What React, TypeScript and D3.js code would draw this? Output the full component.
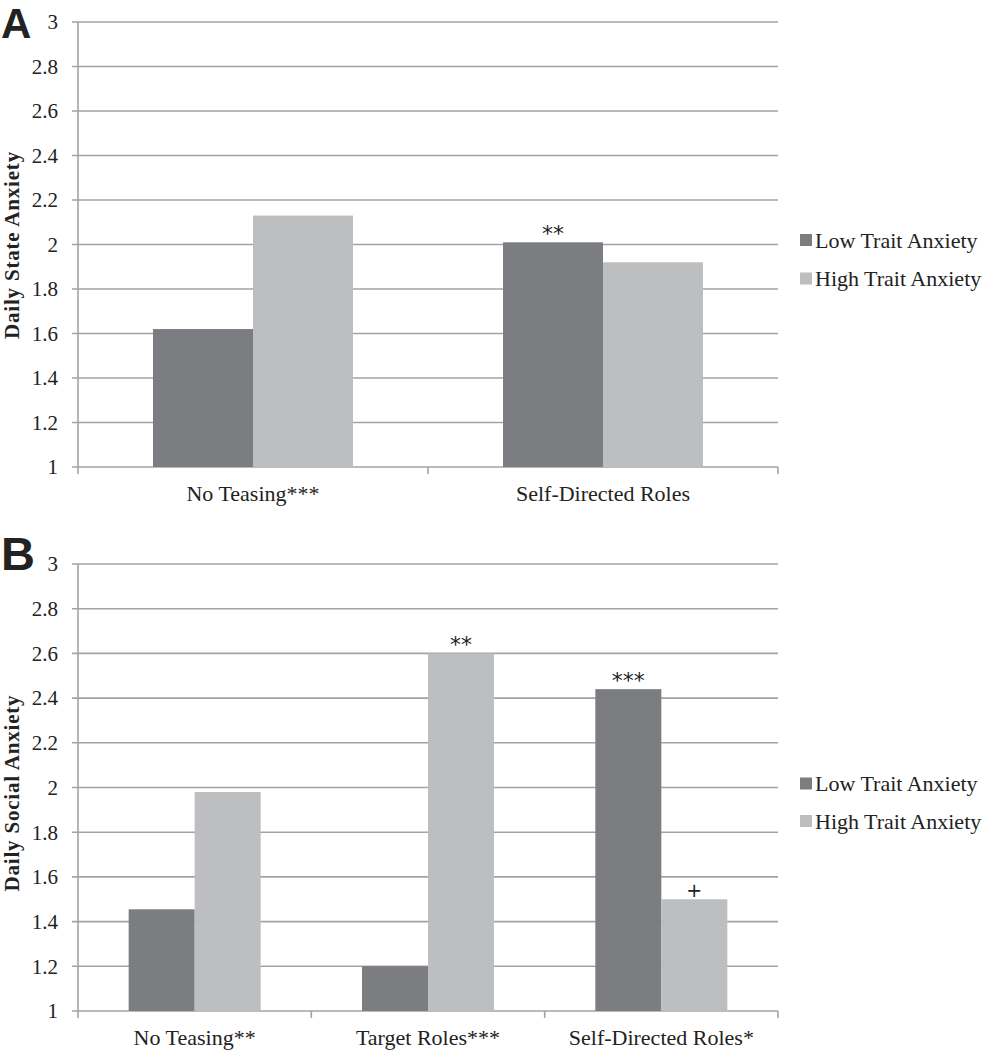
import React, { useEffect } from "react";
import * as d3 from "d3";

const seriesNames = ["Low Trait Anxiety", "High Trait Anxiety"];
const seriesColors = ["#7c7d81", "#bdbec0"];

const catsA = ["No Teasing***", "Self-Directed Roles"];
const lowA = [1.62, 2.01];
const highA = [2.13, 1.92];
const marksLowA = ["", "**"];
const marksHighA = ["", ""];

const catsB = ["No Teasing**", "Target Roles***", "Self-Directed Roles*"];
const lowB = [1.455, 1.2, 2.44];
const highB = [1.98, 2.6, 1.5];
const marksLowB = ["", "", "***"];
const marksHighB = ["", "**", "+"];

const yTicks = [1, 1.2, 1.4, 1.6, 1.8, 2, 2.2, 2.4, 2.6, 2.8, 3];

const SERIF = "'Liberation Serif', 'Times New Roman', serif";

function Panel({ letter, letterSize, title, titleY, cats, low, high, marksLow, marksHigh, top, bottom, barFrac, letterY, legTop, legGap }: any) {
  const left = 78;
  const right = 778;
  const y = d3.scaleLinear().domain([1, 3]).range([bottom, top]);
  const x0 = d3.scaleBand<string>().domain(cats).range([left, right]).paddingInner(0).paddingOuter(0);
  const inner = d3.scaleBand<number>().domain([0, 1]).range([0, x0.bandwidth() * barFrac]);
  const offset = (x0.bandwidth() * (1 - barFrac)) / 2;
  const vals = [low, high];
  const marks = [marksLow, marksHigh];
  return (
    <g>
      <text x={1} y={letterY} fontFamily="'Liberation Sans', Arial, sans-serif" fontWeight="bold" fontSize={letterSize} fill="#222">{letter}</text>
      {yTicks.map((t) => (
        <g key={t}>
          <line x1={left - 6} x2={right} y1={y(t)} y2={y(t)} stroke="#a3a3a3" strokeWidth={1.6} />
          <text x={left - 20} y={y(t)} dy="0.35em" textAnchor="end" fontFamily={SERIF} fontSize={21} fill="#222">{d3.format("~g")(t)}</text>
        </g>
      ))}
      <line x1={left} x2={left} y1={y(3)} y2={y(1) + 1} stroke="#a3a3a3" strokeWidth={1.6} />
      {[...cats.map((c: string) => x0(c)!), right].map((xv: number, i: number) => (
        <line key={i} x1={xv} x2={xv} y1={y(1)} y2={y(1) + 7} stroke="#a3a3a3" strokeWidth={1.6} />
      ))}
      {cats.map((c: string, ci: number) => (
        <g key={c}>
          {[0, 1].map((s) => {
            const bx = x0(c)! + offset + inner(s)!;
            const v = vals[s][ci];
            const m = marks[s][ci];
            return (
              <g key={s}>
                <rect x={bx} y={y(v)} width={inner.bandwidth()} height={y(1) - y(v)} fill={seriesColors[s]} />
                {m && (
                  <text x={bx + inner.bandwidth() / 2} y={m === "+" ? y(v) - 2 : y(v) - 1} textAnchor="middle" fontFamily={m === "+" ? "'DejaVu Sans', sans-serif" : "'DejaVu Sans', sans-serif"} fontSize={m === "+" ? 19 : 22} fill="#222">{m}</text>
                )}
              </g>
            );
          })}
          <text x={x0(c)! + x0.bandwidth() / 2} y={y(1) + 34} textAnchor="middle" fontFamily={SERIF} fontSize={22} fill="#222">{c}</text>
        </g>
      ))}
      <text transform={`translate(19,${titleY}) rotate(-90)`} textAnchor="middle" fontFamily={SERIF} fontWeight="bold" fontSize={21} letterSpacing={0.8} fill="#222">{title}</text>
      {seriesNames.map((n, i) => (
        <g key={n}>
          <rect x={800} y={legTop + i * legGap - 6} width={12} height={12} fill={seriesColors[i]} />
          <text x={815} y={legTop + i * legGap + 7.5} fontFamily={SERIF} fontSize={22} fill="#222">{n}</text>
        </g>
      ))}
    </g>
  );
}

export default function App() {
  useEffect(() => {
    document.body.style.margin = "0";
  }, []);
  return (
    <svg width={988} height={1050} style={{ display: "block", background: "#fff" }}>
      <rect width={988} height={1050} fill="#fff" />
      <Panel letter="A" letterSize={42} title="Daily State Anxiety" titleY={245} cats={catsA} low={lowA} high={highA} marksLow={marksLowA} marksHigh={marksHighA} top={22} bottom={467} barFrac={200 / 350} letterY={38} legTop={240} legGap={38.5} />
      <Panel letter="B" letterSize={47} title="Daily Social Anxiety" titleY={793} cats={catsB} low={lowB} high={highB} marksLow={marksLowB} marksHigh={marksHighB} top={564} bottom={1011} barFrac={132 / 233.33} letterY={570} legTop={783.5} legGap={37.5} />
    </svg>
  );
}
